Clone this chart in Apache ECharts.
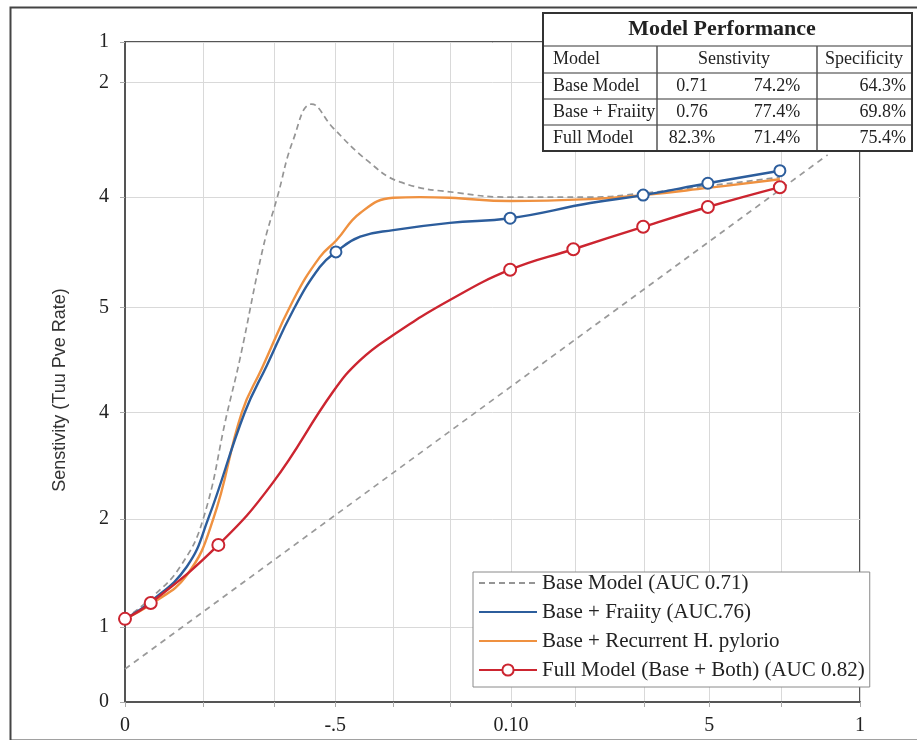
<!DOCTYPE html>
<html><head><meta charset="utf-8">
<script src="https://cdn.jsdelivr.net/npm/echarts@6/dist/echarts.min.js"></script>
<style>html,body{margin:0;padding:0;background:#fff}#c{width:917px;height:740px}</style>
</head><body><div id="c"></div>
<script>
// ---- axis ticks / labels ----
const xTickValues = [0, 0.106, 0.203, 0.286, 0.365, 0.442, 0.525, 0.612, 0.707, 0.795, 0.893, 1];
const xLabelValues = [0, 0.286, 0.525, 0.795, 1];
const xLabelTexts = ['0', '-.5', '0.10', '5', '1'];
const yTickValues = [0, 0.114, 0.277, 0.439, 0.598, 0.765, 0.939, 1];
const yLabelTexts = ['0', '1', '2', '4', '5', '4', '2', '1'];
const yAxisTitle = 'Senstivity (Tuu Pve Rate)';

// ---- series ----
const seriesNames = ['Base Model (AUC 0.71)', 'Base + Fraiity (AUC.76)', 'Base + Recurrent H. pylorio', 'Full Model (Base + Both) (AUC 0.82)'];

const baseX = [0, 0.038, 0.075, 0.106, 0.139, 0.156, 0.188, 0.207, 0.229, 0.254, 0.283, 0.329, 0.374, 0.456, 0.524, 0.633, 0.705, 0.793, 0.891];
const baseY = [0.126, 0.160, 0.205, 0.276, 0.438, 0.518, 0.689, 0.764, 0.852, 0.906, 0.870, 0.821, 0.788, 0.771, 0.765, 0.765, 0.771, 0.782, 0.795];

const frailX = [0, 0.035, 0.084, 0.113, 0.163, 0.193, 0.229, 0.265, 0.287, 0.320, 0.365, 0.442, 0.524, 0.633, 0.705, 0.793, 0.891];
const frailY = [0.126, 0.152, 0.205, 0.277, 0.439, 0.510, 0.594, 0.659, 0.682, 0.705, 0.715, 0.726, 0.733, 0.756, 0.768, 0.786, 0.805];
const frailMarks = [0, 0, 0, 0, 0, 0, 0, 0, 1, 0, 0, 0, 1, 0, 1, 1, 1];

const recurX = [0, 0.035, 0.084, 0.120, 0.159, 0.186, 0.229, 0.265, 0.288, 0.320, 0.365, 0.401, 0.442, 0.524, 0.633, 0.705, 0.793, 0.891];
const recurY = [0.126, 0.148, 0.192, 0.277, 0.439, 0.505, 0.609, 0.674, 0.700, 0.741, 0.764, 0.765, 0.764, 0.759, 0.762, 0.768, 0.779, 0.792];

const fullX = [0, 0.035, 0.127, 0.201, 0.283, 0.320, 0.365, 0.442, 0.524, 0.610, 0.705, 0.793, 0.891];
const fullY = [0.126, 0.150, 0.238, 0.332, 0.470, 0.518, 0.556, 0.609, 0.655, 0.686, 0.720, 0.750, 0.780];
const fullMarks = [1, 1, 1, 0, 0, 0, 0, 0, 1, 1, 1, 1, 1];

const chanceX = [0, 0.956];
const chanceY = [0.05, 0.829];

// ---- table ----
const tableTitle = 'Model Performance';
const tableHeader = ['Model', 'Senstivity', 'Specificity'];
const tableModels = ['Base Model', 'Base + Fraiity', 'Full Model'];
const tableSensA = ['0.71', '0.76', '82.3%'];
const tableSensB = ['74.2%', '77.4%', '71.4%'];
const tableSpec = ['64.3%', '69.8%', '75.4%'];

function pairs(xs, ys, marks) {
  return xs.map((x, i) => {
    const item = { value: [x, ys[i]] };
    if (marks) item.symbol = marks[i] ? 'emptyCircle' : 'none';
    return item;
  });
}

const serif = '"Liberation Serif", "Times New Roman", serif';
const colors = { base: '#959595', frail: '#2c5d9c', recur: '#ef9140', full: '#cc2530' };

// table graphic
const tx = 543, ty = 13, tw = 369;
const rowBounds = [0, 33, 60, 86, 112, 138];
const colLines = [114, 274];
const TZ = 100;
const tableEls = [];
tableEls.push({ type: 'rect', z: TZ, shape: { x: 0, y: 0, width: tw, height: rowBounds[5] }, style: { fill: '#fff', stroke: 'none' } });
for (let i = 1; i < 5; i++) {
  tableEls.push({ type: 'line', z: TZ + 1, shape: { x1: 0, y1: rowBounds[i], x2: tw, y2: rowBounds[i] }, style: { stroke: '#777', lineWidth: 1.5 } });
}
colLines.forEach(cx => tableEls.push({ type: 'line', z: TZ + 1, shape: { x1: cx, y1: rowBounds[1], x2: cx, y2: rowBounds[5] }, style: { stroke: '#555', lineWidth: 1.5 } }));
tableEls.push({ type: 'rect', z: TZ + 2, shape: { x: 0, y: 0, width: tw, height: rowBounds[5] }, style: { fill: 'none', stroke: '#333', lineWidth: 2 } });
function txt(text, x, y, align, font) {
  return { type: 'text', z: TZ + 3, x: x, y: y, style: { text: text, align: align, verticalAlign: 'middle', textAlign: align, textVerticalAlign: 'middle', font: font, fill: '#222' } };
}
const rowFont = '18px ' + serif;
tableEls.push(txt(tableTitle, 179, 16.5, 'center', 'bold 22px ' + serif));
const hy = (rowBounds[1] + rowBounds[2]) / 2;
tableEls.push(txt(tableHeader[0], 10, hy, 'left', rowFont));
tableEls.push(txt(tableHeader[1], 191, hy, 'center', rowFont));
tableEls.push(txt(tableHeader[2], 321, hy, 'center', rowFont));
for (let r = 0; r < 3; r++) {
  const cy = (rowBounds[r + 2] + rowBounds[r + 3]) / 2;
  tableEls.push(txt(tableModels[r], 10, cy, 'left', rowFont));
  tableEls.push(txt(tableSensA[r], 149, cy, 'center', rowFont));
  tableEls.push(txt(tableSensB[r], 234, cy, 'center', rowFont));
  tableEls.push(txt(tableSpec[r], 363, cy, 'right', rowFont));
}

const chart = echarts.init(document.getElementById('c'), null, { renderer: 'canvas' });
chart.setOption({
  animation: false,
  backgroundColor: '#fff',
  grid: { left: 125, top: 42, right: 57, bottom: 38, show: true, borderColor: '#555', borderWidth: 2, backgroundColor: 'transparent', containLabel: false },
  xAxis: {
    type: 'value', min: 0, max: 1,
    axisLine: { show: true, onZero: false, lineStyle: { color: '#555', width: 2 } },
    axisTick: { show: true, customValues: xTickValues, length: 5, lineStyle: { color: '#aaa' } },
    axisLabel: { show: true, customValues: xLabelValues, margin: 14, fontFamily: serif, fontSize: 20, color: '#222',
      formatter: v => { const i = xLabelValues.findIndex(t => Math.abs(t - v) < 1e-6); return i >= 0 ? xLabelTexts[i] : ''; } },
    splitLine: { show: true, lineStyle: { color: '#d9d9d9', width: 1 } },
    minorSplitLine: { show: false }
  },
  yAxis: {
    type: 'value', min: 0, max: 1,
    axisLine: { show: true, onZero: false, lineStyle: { color: '#555', width: 2 } },
    axisTick: { show: true, customValues: yTickValues, length: 5, lineStyle: { color: '#aaa' } },
    axisLabel: { show: true, customValues: yTickValues, margin: 16, fontFamily: serif, fontSize: 20, color: '#222',
      formatter: v => { const i = yTickValues.findIndex(t => Math.abs(t - v) < 1e-6); return i >= 0 ? yLabelTexts[i] : ''; } },
    splitLine: { show: true, lineStyle: { color: '#d9d9d9', width: 1 } }
  },
  legend: {
    show: true, orient: 'vertical', left: 473, top: 572,
    padding: [0, 5, 6, 5], itemGap: 7, itemWidth: 58, itemHeight: 14,
    backgroundColor: '#fff', borderColor: '#8a8a8a', borderWidth: 1, borderRadius: 0,
    textStyle: { fontFamily: serif, fontSize: 21, color: '#222', lineHeight: 22 },
    data: [
      { name: seriesNames[0], itemStyle: { opacity: 0 } },
      { name: seriesNames[1], itemStyle: { opacity: 0 } },
      { name: seriesNames[2], itemStyle: { opacity: 0 } },
      { name: seriesNames[3] }
    ]
  },
  series: [
    { type: 'line', name: 'chance', data: pairs(chanceX, chanceY), symbol: 'none', silent: true,
      lineStyle: { color: '#9a9a9a', width: 1.7, type: [6, 5] }, z: 2 },
    { type: 'line', name: seriesNames[0], data: pairs(baseX, baseY), smooth: 0.45, symbol: 'none',
      lineStyle: { color: colors.base, width: 1.7, type: [6, 4] }, itemStyle: { color: colors.base }, z: 3 },
    { type: 'line', name: seriesNames[2], data: pairs(recurX, recurY), smooth: 0.45, symbol: 'none',
      lineStyle: { color: colors.recur, width: 2.4 }, itemStyle: { color: colors.recur }, z: 4 },
    { type: 'line', name: seriesNames[1], data: pairs(frailX, frailY, frailMarks), smooth: 0.45, symbol: 'none', showSymbol: true, symbolSize: 11,
      lineStyle: { color: colors.frail, width: 2.4 }, itemStyle: { color: colors.frail, borderWidth: 2 }, z: 5 },
    { type: 'line', name: seriesNames[3], data: pairs(fullX, fullY, fullMarks), smooth: 0.45, symbol: 'emptyCircle', showSymbol: true, symbolSize: 12,
      lineStyle: { color: colors.full, width: 2.4 }, itemStyle: { color: colors.full, borderWidth: 2 }, z: 6 }
  ],
  graphic: [
    { type: 'rect', left: 8, top: 5, shape: { x: 0, y: 0, width: 915, height: 733 }, style: { fill: 'none', stroke: '#444', lineWidth: 2 }, silent: true, z: 0 },
    { type: 'text', x: 60, y: 390, rotation: Math.PI / 2,
      style: { text: yAxisTitle, align: 'center', verticalAlign: 'middle', textAlign: 'center', textVerticalAlign: 'middle', font: '18px "Liberation Sans", Arial, sans-serif', fill: '#333' } },
    { type: 'group', x: tx, y: ty, z: TZ, children: tableEls }
  ]
});
</script>
</body></html>
